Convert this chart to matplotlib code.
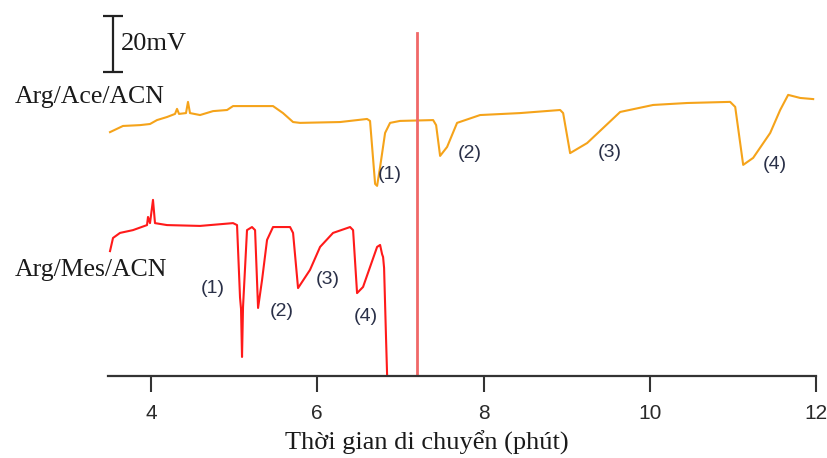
import matplotlib
matplotlib.use("Agg")
import matplotlib.pyplot as plt

# ---- data (time in minutes, signal in mV) ----
ace_time = [3.507, 3.663, 3.868, 3.988, 4.072, 4.193, 4.289, 4.313, 4.337, 4.421,
            4.445, 4.469, 4.590, 4.746, 4.915, 4.987, 5.468, 5.588, 5.709, 5.793,
            6.274, 6.599, 6.635, 6.696, 6.720, 6.756, 6.816, 6.876, 6.996, 7.394,
            7.430, 7.478, 7.562, 7.682, 7.959, 8.440, 8.922, 8.958, 9.042, 9.247,
            9.644, 10.041, 10.450, 10.967, 11.028, 11.124, 11.244, 11.449, 11.569,
            11.665, 11.810, 11.966]
ace_signal = [87.1, 89.3, 89.6, 90.0, 91.4, 92.5, 93.6, 95.4, 93.6, 93.9,
              97.9, 93.9, 93.2, 94.6, 95.0, 96.4, 96.4, 93.9, 90.7, 90.4,
              90.7, 91.8, 91.1, 68.6, 67.9, 74.6, 86.8, 90.4, 91.1, 91.4,
              89.6, 78.6, 81.8, 90.4, 93.2, 93.9, 95.0, 93.9, 79.6, 83.2,
              94.3, 96.8, 97.5, 97.9, 96.1, 75.4, 77.9, 86.8, 95.0,
              100.4, 99.3, 98.9]

mes_time = [3.507, 3.543, 3.627, 3.783, 3.952, 3.964, 3.988, 4.024, 4.048, 4.193,
            4.590, 4.987, 5.035, 5.071, 5.083, 5.095, 5.107, 5.155, 5.215, 5.252,
            5.288, 5.336, 5.396, 5.468, 5.673, 5.709, 5.769, 5.913, 6.034, 6.190,
            6.395, 6.431, 6.479, 6.551, 6.720, 6.756, 6.780, 6.792, 6.804, 6.828,
            6.840]
mes_signal = [44.6, 49.3, 51.1, 52.1, 53.9, 56.8, 54.6, 62.9, 54.6, 53.9,
              53.6, 54.6, 53.9, 28.0, 24.0, 6.8, 24.6, 52.1, 53.2, 52.1,
              24.3, 34.3, 48.6, 53.2, 53.2, 51.1, 31.4, 37.9, 46.1, 51.1,
              53.2, 52.1, 29.6, 31.8, 46.1, 46.8, 43.5, 42.5, 38.6, 13.0,
              0.7]

ace_peak_labels = ["(1)", "(2)", "(3)", "(4)"]
ace_label_time = [6.875, 7.838, 9.522, 11.507]
ace_label_signal = [71.8, 79.6, 80.0, 75.4]

mes_peak_labels = ["(1)", "(2)", "(3)", "(4)"]
mes_label_time = [4.746, 5.576, 6.129, 6.587]
mes_label_signal = [31.4, 22.9, 34.3, 21.4]

tick_values = [4, 6, 8, 10, 12]
marker_time = 7.20
scale_bar_mV = 20

# ---- figure ----
W, H = 827, 458
fig = plt.figure(figsize=(W / 100, H / 100), dpi=100)
axis_px = 376
ax = fig.add_axes([0, (H - axis_px) / H, 1, axis_px / H])
px_per_min = 83.125
ax.set_xlim(4 - 151 / px_per_min, 12 + 11 / px_per_min)
ax.set_ylim(0, axis_px / 2.8)

ax.plot(ace_time, ace_signal, color="#f5a31a", lw=1.5, solid_joinstyle="round")
ax.plot(mes_time, mes_signal, color="#ff1a1a", lw=1.5, solid_joinstyle="round")
ax.axvline(marker_time, ymin=0, ymax=(axis_px - 33) / axis_px, color="#f06868", lw=2)

peak_font = dict(family=["Liberation Sans", "DejaVu Sans"], fontsize=14, color="#2a3048",
                 ha="center", va="center")
for lab, t, v in zip(ace_peak_labels, ace_label_time, ace_label_signal):
    ax.text(t, v, lab, **peak_font)
for lab, t, v in zip(mes_peak_labels, mes_label_time, mes_label_signal):
    ax.text(t, v, lab, **peak_font)

serif = ["Liberation Serif", "DejaVu Serif"]
ax.text(2.364, 99.6, "Arg/Ace/ACN", family=serif, fontsize=18.5, color="#1a1a1a",
        ha="left", va="center")
ax.text(2.364, 37.9, "Arg/Mes/ACN", family=serif, fontsize=18.5, color="#1a1a1a",
        ha="left", va="center")

# scale bar
bar_bottom = 108.6
ax.errorbar([3.543], [bar_bottom + scale_bar_mV / 2], yerr=[scale_bar_mV / 2],
            color="#222222", lw=1.6, capsize=7.5, capthick=1.6)
ax.text(3.64, bar_bottom + scale_bar_mV / 2, f"{scale_bar_mV}mV", family=serif,
        fontsize=19, color="#1a1a1a", ha="left", va="center")

# axes styling
for s in ["top", "left", "right"]:
    ax.spines[s].set_visible(False)
ax.spines["bottom"].set_bounds(3.48, 12.0)
ax.spines["bottom"].set_linewidth(1.6)
ax.spines["bottom"].set_color("#333333")
ax.set_yticks([])
ax.set_xticks(tick_values)
ax.set_xticklabels([str(v) for v in tick_values],
                   fontfamily=["Liberation Sans", "DejaVu Sans"], fontsize=15)
ax.tick_params(axis="x", direction="out", length=11.5, width=1.5, color="#333333",
               pad=9, labelcolor="#2a2a2a")
ax.set_xlabel("Thời gian di chuyển (phút)", family=serif, fontsize=19, color="#1a1a1a")
ax.xaxis.label.set_horizontalalignment("left")
ax.xaxis.label.set_verticalalignment("center")
ax.xaxis.set_label_coords(285 / W, -(443 - axis_px) / axis_px)
ax.patch.set_alpha(0)

fig.savefig("out.png", dpi=100, facecolor="white")
